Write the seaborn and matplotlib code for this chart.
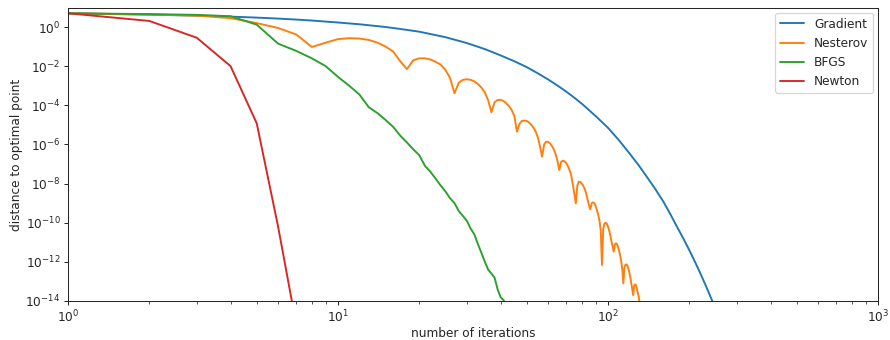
import numpy as np
import pandas as pd
import matplotlib
matplotlib.use("Agg")
import matplotlib.pyplot as plt
import matplotlib.ticker as mticker
import seaborn as sns

# values, stored as log10(distance) per iteration
grad_iter = [1, 2, 3, 4, 5, 6, 7, 8, 10, 12, 15, 17, 20, 25, 30, 35, 40, 45, 50,
             55, 60, 65, 70, 75, 80, 90, 100, 110, 120, 130, 140, 150, 160, 170,
             180, 190, 200, 210, 220, 230, 240, 250]
grad_log = [0.70, 0.63, 0.58, 0.53, 0.48, 0.43, 0.38, 0.33, 0.23, 0.14, 0.0, -0.10,
            -0.24, -0.52, -0.82, -1.13, -1.45, -1.75, -2.05, -2.37, -2.68, -2.99,
            -3.3, -3.61, -3.92, -4.55, -5.15, -5.8, -6.45, -7.07, -7.7, -8.3, -8.9,
            -9.55, -10.2, -10.8, -11.4, -12.0, -12.6, -13.2, -13.8, -14.4]

nest_iter = list(range(1, 133))
nest_log = [0.70, 0.64, 0.58, 0.45, 0.20, -0.05, -0.38, -1.02, -0.80, -0.62,
            -0.57, -0.59, -0.66, -0.80, -1.0, -1.25, -1.75, -2.15, -1.70, -1.60,
            -1.60, -1.66, -1.78, -1.92, -2.2, -2.6, -3.39, -2.85, -2.70, -2.67,
            -2.70, -2.78, -2.92, -3.10, -3.35, -3.75, -4.36, -3.85, -3.73, -3.72,
            -3.78, -3.90, -4.05, -4.25, -4.55, -5.35, -4.95, -4.80, -4.78, -4.80,
            -4.88, -5.0, -5.15, -5.35, -5.65, -6.1, -6.63, -6.0, -5.86, -5.87,
            -5.95, -6.08, -6.25, -6.5, -6.85, -7.31, -6.9, -6.83, -6.86, -6.95,
            -7.1, -7.3, -7.55, -8.0, -8.5, -9.01, -8.1, -7.9, -7.92, -8.0,
            -8.12, -8.28, -8.5, -8.8, -9.1, -9.32, -9.0, -8.96, -9.0, -9.15,
            -9.35, -9.6, -9.9, -10.4, -12.16, -10.3, -10.05, -10.0, -10.05, -10.2,
            -10.4, -10.65, -10.95, -11.2, -11.48, -11.1, -11.05, -11.1, -11.25, -11.45,
            -11.7, -12.0, -12.4, -13.1, -12.3, -12.15, -12.13, -12.2, -12.35, -12.55,
            -12.8, -13.1, -13.4, -13.7, -13.2, -13.15, -13.2, -13.4, -13.6, -13.8,
            -14.1, -14.4]

bfgs_iter = list(range(1, 43))
bfgs_log = [0.70, 0.66, 0.62, 0.55, 0.12, -0.85, -1.22, -1.6, -2.0, -2.55,
            -3.0, -3.45, -4.1, -4.4, -4.75, -5.1, -5.55, -5.9, -6.25, -6.55,
            -7.1, -7.4, -7.75, -8.1, -8.4, -8.75, -9.0, -9.4, -9.65, -9.9,
            -10.3, -10.6, -11.1, -11.55, -12.0, -12.4, -12.6, -12.8, -13.4, -13.8,
            -13.95, -14.3]

newton_iter = [1, 2, 3, 4, 5, 6, 7]
newton_log = [0.70, 0.31, -0.55, -2.0, -4.92, -10.2, -15.2]

methods = ["Gradient", "Nesterov", "BFGS", "Newton"]
colors = ["#1f77b4", "#ff7f0e", "#2ca02c", "#d62728"]

frames = []
for name, it, lg in [("Gradient", grad_iter, grad_log),
                     ("Nesterov", nest_iter, nest_log),
                     ("BFGS", bfgs_iter, bfgs_log),
                     ("Newton", newton_iter, newton_log)]:
    frames.append(pd.DataFrame({"iteration": it,
                                "distance": 10.0 ** np.array(lg),
                                "method": name}))
df = pd.concat(frames, ignore_index=True)

sns.set_style("ticks")
plt.rcParams["font.family"] = ["DejaVu Sans"]

dpi = 92
fig = plt.figure(figsize=(890 / dpi, 340 / dpi), dpi=dpi)
ax = fig.add_axes([68 / 890, 1 - 301 / 340, 810 / 890, 293 / 340])
ax.set_xscale("log")
ax.set_yscale("log")

sns.lineplot(data=df, x="iteration", y="distance", hue="method",
             hue_order=methods, palette=colors, estimator=None, sort=False,
             linewidth=1.5, ax=ax)

ax.set_xlim(1, 1000)
ax.set_ylim(1e-14, 9.35)
ax.yaxis.set_major_locator(mticker.FixedLocator([10.0 ** p for p in range(-14, 1, 2)]))
ax.yaxis.set_minor_locator(mticker.NullLocator())
ax.xaxis.set_minor_locator(mticker.LogLocator(base=10, subs=np.arange(2, 10)))
ax.xaxis.set_minor_formatter(mticker.NullFormatter())
ax.tick_params(labelsize=9.5, pad=2.5)
ax.set_xlabel("number of iterations", fontsize=9.5, labelpad=1)
ax.set_ylabel("distance to optimal point", fontsize=9.5, labelpad=2)
ax.legend(title=None, loc="upper right", fontsize=9.5, borderaxespad=0.4)

fig.savefig("out.png", dpi=dpi)
